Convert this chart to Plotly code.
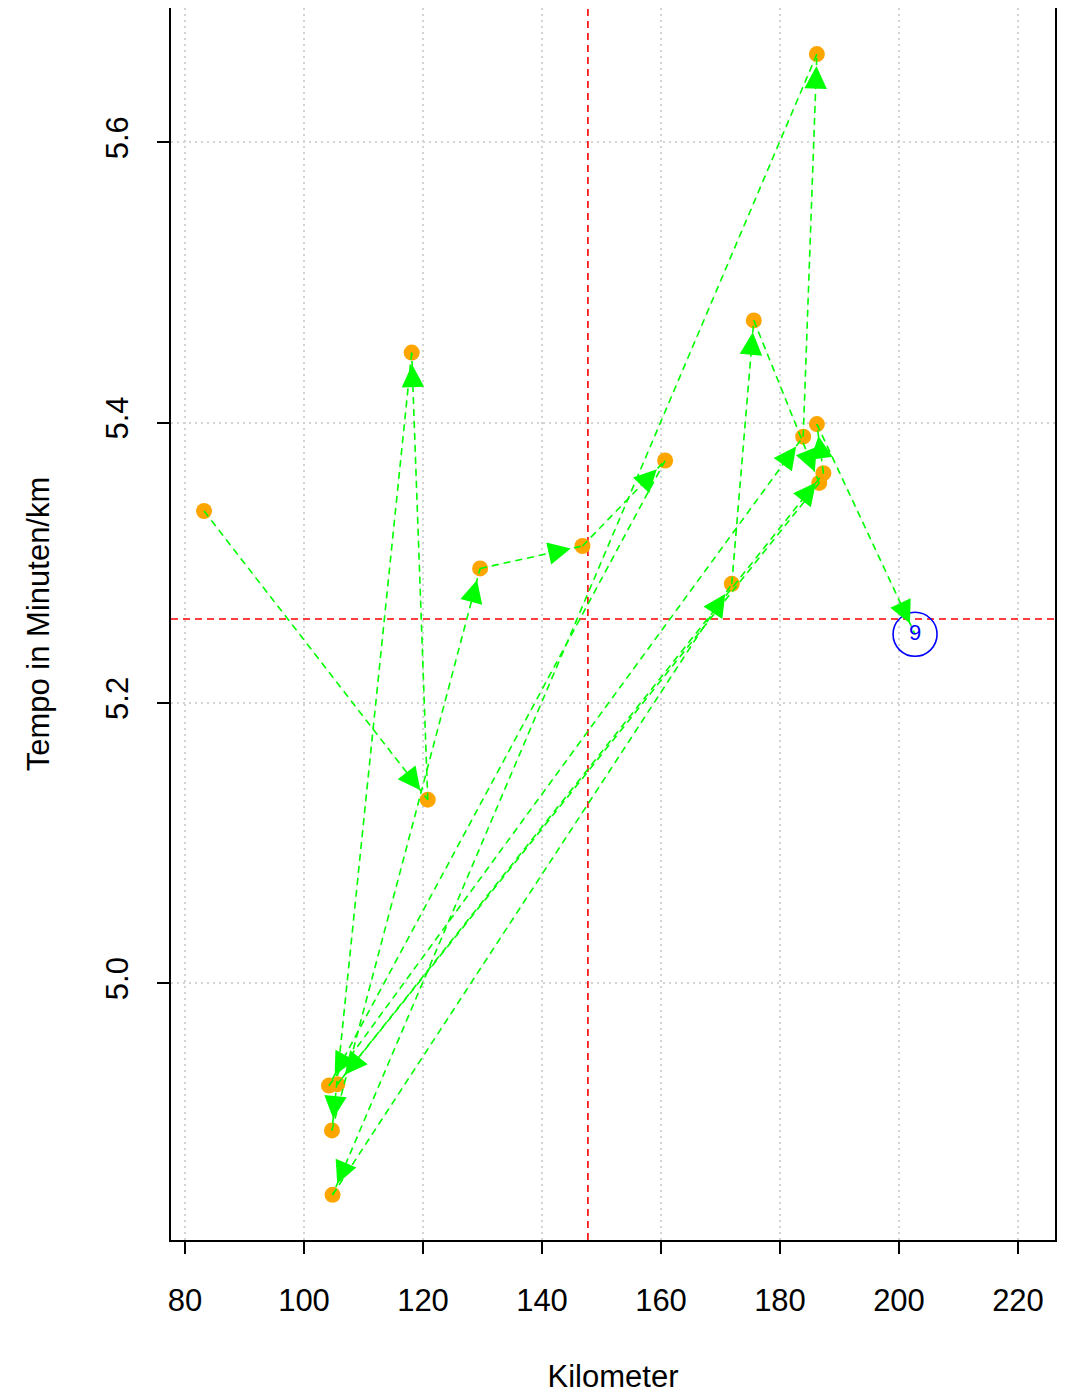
import numpy as np
import plotly.graph_objects as go

# ---- data ----
km = [83.2, 120.8, 118.1, 104.7, 129.6, 146.8, 160.7, 104.2, 183.9, 186.2,
      104.8, 171.9, 175.6, 186.6, 105.6, 187.3, 186.2, 202.7]
tempo = [5.337, 5.131, 5.450, 4.895, 5.296, 5.312, 5.373, 4.927, 5.390, 5.663,
         4.849, 5.285, 5.473, 5.357, 4.928, 5.364, 5.399, 5.249]
last_label = "9"
x_ticks = [80, 100, 120, 140, 160, 180, 200, 220]
y_ticks = [5.0, 5.2, 5.4, 5.6]
y_tick_text = ["5.0", "5.2", "5.4", "5.6"]
x_title = "Kilometer"
y_title = "Tempo in Minuten/km"

FONT = "Liberation Sans, Arial, Helvetica, sans-serif"
GREEN = "#00FF00"
ORANGE = "#FFA500"

mean_x = float(np.mean(km))
mean_y = float(np.mean(tempo))

fig = go.Figure()

# orange points (all but the last one)
fig.add_trace(go.Scatter(
    x=km[:-1], y=tempo[:-1], mode="markers",
    marker=dict(color=ORANGE, size=16, line=dict(width=0)),
    hoverinfo="skip", showlegend=False))

# dashed green path, one segment per step
for i in range(len(km) - 1):
    fig.add_trace(go.Scatter(
        x=[km[i], km[i + 1]], y=[tempo[i], tempo[i + 1]], mode="lines",
        line=dict(color=GREEN, width=1.6, dash="7px,5px"),
        hoverinfo="skip", showlegend=False))

# arrowheads
for i in range(len(km) - 1):
    fig.add_annotation(
        x=km[i + 1], y=tempo[i + 1], ax=km[i], ay=tempo[i],
        xref="x", yref="y", axref="x", ayref="y",
        text="", showarrow=True, arrowhead=2, arrowsize=45, arrowwidth=0.1,
        arrowcolor=GREEN, standoff=12)

# last point highlighted
fig.add_trace(go.Scatter(
    x=[km[-1]], y=[tempo[-1]], mode="markers+text",
    marker=dict(symbol="circle-open", size=44, color="#0000FF",
                line=dict(width=1.6, color="#0000FF")),
    text=[last_label], textposition="middle center",
    textfont=dict(family=FONT, size=22, color="#0000FF"),
    hoverinfo="skip", showlegend=False))

# mean lines
fig.add_shape(type="line", xref="x", yref="paper", x0=mean_x, x1=mean_x, y0=0, y1=1,
              line=dict(color="#FF0000", width=1.6, dash="7px,5px"), layer="below")
fig.add_shape(type="line", xref="paper", yref="y", x0=0, x1=1, y0=mean_y, y1=mean_y,
              line=dict(color="#FF0000", width=1.6, dash="7px,5px"), layer="below")

axis_common = dict(
    showline=True, mirror=True, linecolor="black", linewidth=1.5,
    ticks="outside", ticklen=12, tickwidth=1.5, tickcolor="black",
    showgrid=True, gridcolor="#D3D3D3", gridwidth=1.5, griddash="2px,4px",
    zeroline=False, tickfont=dict(family=FONT, size=31, color="black"),
)

fig.update_layout(
    width=1058, height=1390,
    margin=dict(l=163, r=11, t=0, b=158),
    plot_bgcolor="white", paper_bgcolor="white",
    font=dict(family=FONT, size=31, color="black"),
    xaxis=dict(range=[77.647, 226.22], tickvals=x_ticks, ticklabelstandoff=20,
               title=dict(text=x_title, font=dict(family=FONT, size=31), standoff=48),
               automargin=False, **axis_common),
    yaxis=dict(range=[4.8168, 5.6959], tickvals=y_ticks, ticktext=y_tick_text,
               tickangle=-90, ticklabelstandoff=17,
               title=dict(text=y_title, font=dict(family=FONT, size=31), standoff=41),
               automargin=False, **axis_common),
)

fig.write_html("out.html")
